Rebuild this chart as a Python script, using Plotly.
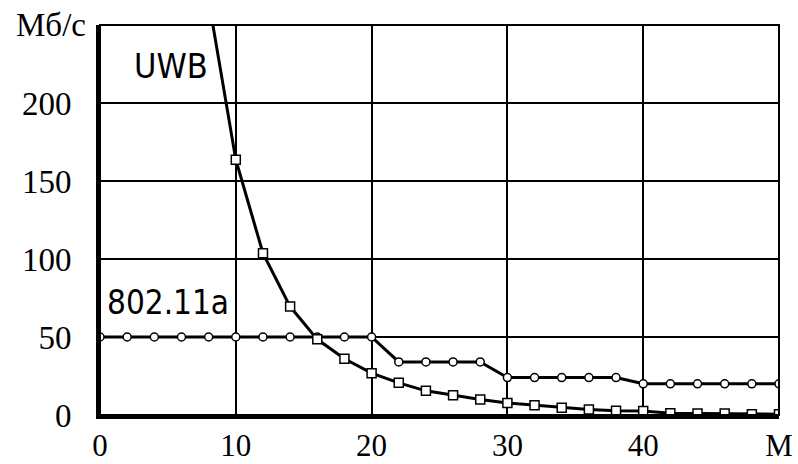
import plotly.graph_objects as go

# ---- data ----
wifi_x = [0, 2, 4, 6, 8, 10, 12, 14, 16, 18, 20, 22, 24, 26, 28, 30, 32, 34, 36, 38, 40, 42, 44, 46, 48, 50]
wifi_y = [50, 50, 50, 50, 50, 50, 50, 50, 50, 50, 50, 34, 34, 34, 34, 24, 24, 24, 24, 24, 20, 20, 20, 20, 20, 20]

uwb_x = [8, 10, 12, 14, 16, 18, 20, 22, 24, 26, 28, 30, 32, 34, 36, 38, 40, 42, 44, 46, 48, 50]
uwb_y = [266, 163.7, 103.7, 69.5, 48.5, 36, 26.8, 20.6, 15.5, 12.6, 9.9, 7.7, 6.3, 4.7, 3.6, 2.8, 2.6, 1.2, 1.0, 0.9, 0.5, 0.5]

x_tickvals = [0, 10, 20, 30, 40, 50]
x_ticktext = ["0", "10", "20", "30", "40", "M"]
y_tickvals = [0, 50, 100, 150, 200, 250]
y_ticktext = ["0", "50", "100", "150", "200", ""]
y_unit = "Мб/с"

SERIF = "Liberation Serif, Times New Roman, serif"
NARROW = "DejaVu Sans Condensed, Liberation Sans Narrow, Liberation Sans, Arial, sans-serif"

W, H = 798, 464
L, R, T, B = 100, 19, 25, 49
PW, PH = W - L - R, H - T - B

fig = go.Figure()
fig.add_trace(go.Scatter(
    x=wifi_x, y=wifi_y, mode="lines+markers",
    line=dict(color="black", width=3),
    marker=dict(symbol="circle", size=8, color="white", line=dict(color="black", width=1.5)),
    showlegend=False,
))
fig.add_trace(go.Scatter(
    x=uwb_x, y=uwb_y, mode="lines+markers",
    line=dict(color="black", width=3),
    marker=dict(symbol="square", size=9, color="white", line=dict(color="black", width=1.5)),
    showlegend=False,
))

fig.add_annotation(x=5.2, y=224, xref="x", yref="y", text="UWB", showarrow=False,
                   font=dict(family=NARROW, size=34, color="black"))
fig.add_annotation(x=5.0, y=72, xref="x", yref="y", text="802.11a", showarrow=False,
                   font=dict(family=NARROW, size=33, color="black"))
fig.add_annotation(x=(51 - L) / PW, y=1.0, xref="paper", yref="paper", text=y_unit, showarrow=False,
                   xanchor="center", yanchor="middle",
                   font=dict(family=SERIF, size=33, color="black"))

fig.add_shape(type="rect", xref="paper", yref="paper", x0=0, y0=0, x1=1, y1=1,
              line=dict(color="black", width=2), layer="above")

fig.update_layout(
    width=W, height=H,
    margin=dict(l=L, r=R, t=T, b=B, autoexpand=False),
    paper_bgcolor="white", plot_bgcolor="white",
    font=dict(family=SERIF, size=33, color="black"),
)
fig.update_xaxes(range=[0, 50], tickvals=x_tickvals, ticktext=x_ticktext,
                 tickfont=dict(size=31),
                 showgrid=True, gridcolor="black", gridwidth=2,
                 showline=True, linecolor="black", linewidth=4,
                 zeroline=False, ticks="", ticklabelstandoff=0, automargin=False)
fig.update_yaxes(range=[0, 250], tickvals=y_tickvals, ticktext=y_ticktext,
                 showgrid=True, gridcolor="black", gridwidth=2,
                 showline=True, linecolor="black", linewidth=4,
                 zeroline=False, ticks="", ticklabelstandoff=18, automargin=False)

fig.write_html("out.html", config={"displayModeBar": False},
               post_script="document.body.style.margin='0';document.body.style.overflow='hidden';")
